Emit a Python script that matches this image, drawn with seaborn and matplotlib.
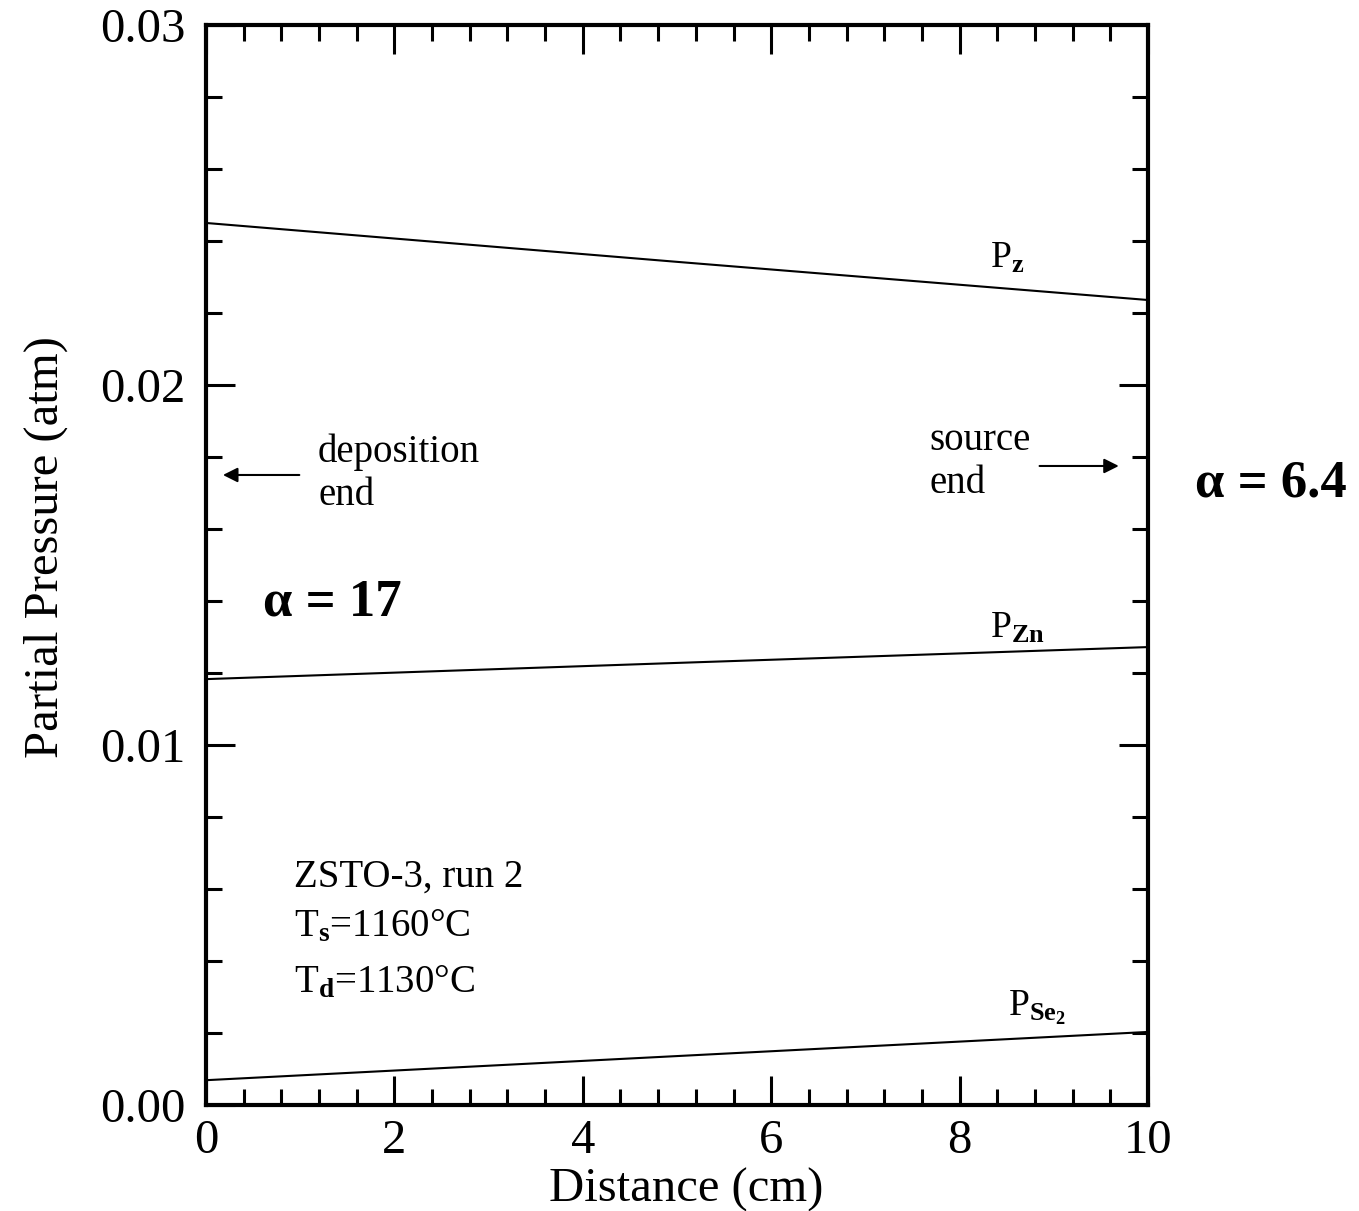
import matplotlib
matplotlib.use("Agg")
import matplotlib.pyplot as plt
import seaborn as sns
import pandas as pd
from matplotlib.ticker import MultipleLocator

sns.set_theme(style="ticks")
plt.rcParams['font.family'] = ['Liberation Serif', 'DejaVu Serif']
plt.rcParams['text.color'] = 'black'
plt.rcParams['axes.labelcolor'] = 'black'
plt.rcParams['mathtext.fontset'] = 'custom'
plt.rcParams['mathtext.rm'] = 'Liberation Serif'
plt.rcParams['mathtext.it'] = 'Liberation Serif:italic'
plt.rcParams['mathtext.bf'] = 'Liberation Serif:bold'

# data
distance = [0, 5, 10]
p_z = [0.02450, 0.02342, 0.02236]
p_zn = [0.01183, 0.01228, 0.01272]
p_se2 = [0.00069, 0.00136, 0.00203]
series_names = ["Pz", "PZn", "PSe2"]

df = pd.DataFrame({
    "Distance": distance * 3,
    "Pressure": p_z + p_zn + p_se2,
    "Species": [s for s in series_names for _ in distance],
})

fig = plt.figure(figsize=(13.59, 12.11), dpi=100)
ax = fig.add_axes([0.1516, 0.0875, 0.6931, 0.8919])

sns.lineplot(data=df, x="Distance", y="Pressure", units="Species", estimator=None,
             color="black", linewidth=1.5, ax=ax, legend=False)

ax.set_xlim(0, 10)
ax.set_ylim(0, 0.03)
ax.xaxis.set_major_locator(MultipleLocator(2))
ax.xaxis.set_minor_locator(MultipleLocator(0.4))
ax.yaxis.set_major_locator(MultipleLocator(0.01))
ax.yaxis.set_minor_locator(MultipleLocator(0.002))
ax.yaxis.set_major_formatter(matplotlib.ticker.FormatStrFormatter('%.2f'))
ax.tick_params(which='both', direction='in', top=True, right=True, color='black',
               labelsize=35, labelcolor='black')
ax.tick_params(which='major', length=21, width=2.2)
ax.tick_params(axis='y', which='major', pad=15)
ax.tick_params(axis='x', which='major', pad=10)
ax.tick_params(which='minor', length=11.5, width=2.2)
for sp in ax.spines.values():
    sp.set_linewidth(3)
    sp.set_color('black')

ax.set_xlabel("Distance (cm)", fontsize=35, labelpad=4)
ax.set_ylabel("Partial Pressure (atm)", fontsize=35, labelpad=22)
ax.xaxis.set_label_coords(0.51, -0.058)
ax.yaxis.set_label_coords(-0.147, 0.517)

fs = 27
ax.text(8.32, 0.02353, r"$\mathrm{P}_{\mathbf{z}}$", fontsize=fs, va='center', ha='left')
ax.text(8.32, 0.01325, r"$\mathrm{P}_{\mathbf{Zn}}$", fontsize=fs, va='center', ha='left')
ax.text(8.51, 0.0027, r"$\mathrm{P}_{\mathbf{Se_2}}$", fontsize=fs, va='center', ha='left')

ax.text(1.19, 0.01753, "deposition\nend", fontsize=28, va='center', ha='left', linespacing=1.2)
ax.annotate("", xy=(0.15, 0.0175), xytext=(1.02, 0.0175),
            arrowprops=dict(arrowstyle='-|>', color='black', lw=1.5, mutation_scale=22))
ax.text(7.68, 0.01786, "source\nend", fontsize=28, va='center', ha='left', linespacing=1.2)
ax.annotate("", xy=(9.72, 0.01775), xytext=(8.82, 0.01775),
            arrowprops=dict(arrowstyle='-|>', color='black', lw=1.5, mutation_scale=22))

ax.text(0.6, 0.01395, "α = 17", fontsize=38, fontweight='bold', va='center', ha='left')
ax.text(10.5, 0.01725, "α = 6.4", fontsize=38, fontweight='bold', va='center', ha='left',
        clip_on=False)

ax.text(0.93, 0.00633, "ZSTO-3, run 2", fontsize=28, va='center', ha='left')
ax.text(0.93, 0.00494, r"T$_\mathbf{s}$=1160°C", fontsize=28, va='center', ha='left')
ax.text(0.93, 0.00339, r"T$_\mathbf{d}$=1130°C", fontsize=28, va='center', ha='left')

fig.savefig("out.png", dpi=100, facecolor='white')
